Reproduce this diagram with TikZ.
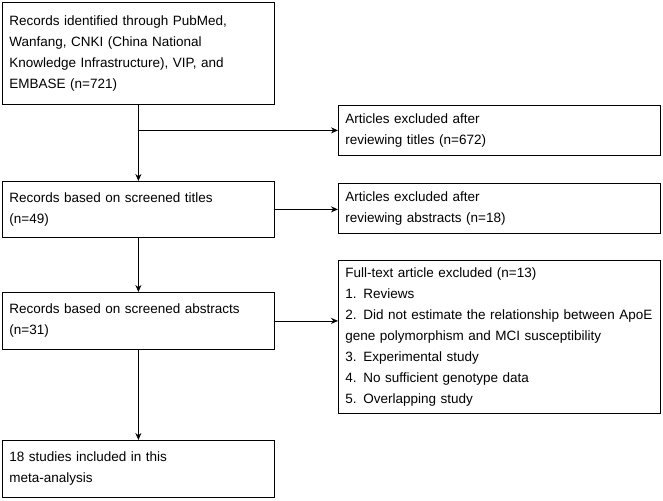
\documentclass[tikz,border=0pt]{standalone}
\usepackage{fontspec}
\setmainfont{Liberation Sans}
\usetikzlibrary{arrows.meta, positioning}
\tikzset{
  box/.style={draw, line width=0.8pt, align=left, inner sep=7pt, anchor=north west,
    font=\fontsize{13.5}{21}\selectfont},
  link/.style={line width=0.8pt, -{Stealth[length=7pt,width=6pt]}}
}
\begin{document}
\begin{tikzpicture}[x=1pt,y=-1pt]
  \useasboundingbox (0,0) rectangle (663,500);

  \node[box, text width=258pt, minimum height=102pt] (ident) at (2,2)
    {Records identified through PubMed,\\Wanfang, CNKI (China National\\Knowledge Infrastructure), VIP, and\\EMBASE (n=721)};
  \node[box, text width=308pt, minimum height=50pt] (extitle) at (338,105)
    {Articles excluded after\\reviewing titles (n=672)};
  \node[box, text width=258pt, minimum height=56pt] (titles) at (2,181)
    {Records based on screened titles\\(n=49)};
  \node[box, text width=308pt, minimum height=50pt] (exabs) at (338,183)
    {Articles excluded after\\reviewing abstracts (n=18)};
  \node[box, text width=308pt, minimum height=120pt] (exfull) at (338,260)
    {Full-text article excluded (n=13)\\1. Reviews\\2. Did not estimate the relationship between ApoE\\gene polymorphism and MCI susceptibility\\3. Experimental study\\4. No sufficient genotype data\\5. Overlapping study};
  \node[box, text width=258pt, minimum height=57pt] (abstracts) at (2,292)
    {Records based on screened abstracts\\(n=31)};
  \node[box, text width=258pt, minimum height=57pt] (incl) at (2,440)
    {18 studies included in this\\meta-analysis};

  \coordinate (split) at (ident.south |- extitle.west);

  \draw[link] (ident.south) -- (titles.north);
  \draw[link] (split) -- (extitle.west);
  \draw[link] (titles.east) -- (titles.east -| exabs.west);
  \draw[link] (titles.south) -- (abstracts.north);
  \draw[link] (abstracts.east) -- (abstracts.east -| exfull.west);
  \draw[link] (abstracts.south) -- (incl.north);
\end{tikzpicture}
\end{document}
